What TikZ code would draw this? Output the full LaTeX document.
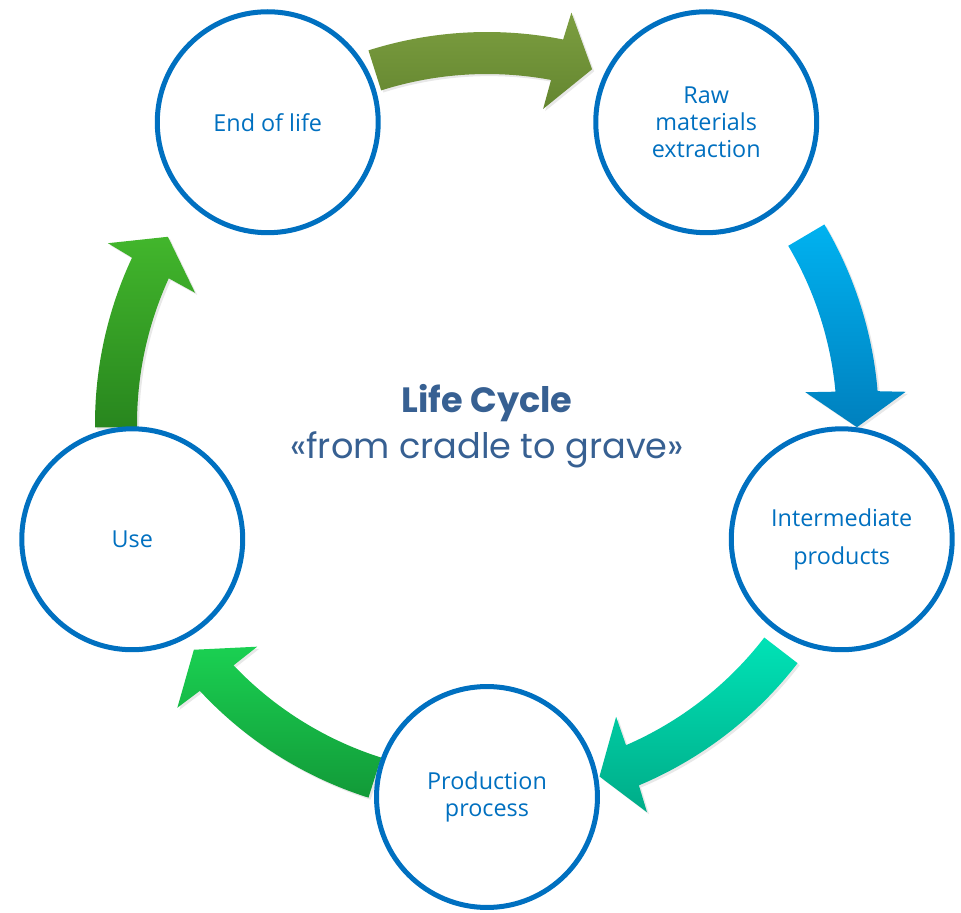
\documentclass[tikz,border=0pt]{standalone}
\usepackage{fontspec}
\setmainfont{Open Sans}
\newfontfamily\titlefont{Poppins}
\usepackage{tikz}
\usetikzlibrary{shadows, positioning}
\definecolor{ringblue}{RGB}{0,112,192}
\definecolor{titleblue}{RGB}{55,96,146}
\definecolor{olivetop}{RGB}{124,158,64}
\definecolor{olivebot}{RGB}{100,134,48}
\definecolor{skytop}{RGB}{0,178,240}
\definecolor{skybot}{RGB}{0,128,190}
\definecolor{aquatop}{RGB}{0,226,182}
\definecolor{aquabot}{RGB}{0,172,136}
\definecolor{leaftop}{RGB}{26,208,82}
\definecolor{leafbot}{RGB}{18,154,56}
\definecolor{grasstop}{RGB}{66,182,44}
\definecolor{grassbot}{RGB}{40,134,30}
\tikzset{
  stage/.style={circle, draw=ringblue, fill=white, line width=2.85pt,
    minimum size=4.42cm, inner sep=0pt, align=center,
    font=\fontsize{13.3}{15.6}\selectfont, text=ringblue},
  cyclearrow/.style={drop shadow={opacity=0.18, shadow xshift=1.2pt,
    shadow yshift=-1.2pt}},
  titletext/.style={font=\titlefont\fontsize{20}{24}\selectfont,
    text=titleblue, anchor=base}
}
\begin{document}
\begin{tikzpicture}[x=0.02cm, y=0.02cm]
  \useasboundingbox (-487,-489) rectangle (474,424);

  % arrows along the ring
  \shade[cyclearrow, top color=olivetop, bottom color=olivebot]
    (107.6:392) arc[start angle=107.6, end angle=78.8, radius=392]
    -- (78.4:420) -- (73.5:370) -- (79.9:320) -- (79.45:350)
    arc[start angle=79.45, end angle=107.6, radius=350] -- cycle;
  \shade[cyclearrow, top color=skytop, bottom color=skybot]
    (30.6:392) arc[start angle=30.6, end angle=4.8, radius=392]
    -- (4.4:420) -- (-0.5:370) -- (5.7:320) -- (5.3:350)
    arc[start angle=5.3, end angle=30.6, radius=350] -- cycle;
  \shade[cyclearrow, top color=aquatop, bottom color=aquabot]
    (-37.6:392) arc[start angle=-37.6, end angle=-67.2, radius=392]
    -- (-67.6:420) -- (-72.3:370) -- (-66.2:320) -- (-66.6:350)
    arc[start angle=-66.6, end angle=-37.6, radius=350] -- cycle;
  \shade[cyclearrow, top color=leaftop, bottom color=leafbot]
    (-107.6:392) arc[start angle=-107.6, end angle=-137.1, radius=392]
    -- (-137.5:420) -- (-142.4:370) -- (-135.9:320) -- (-136.4:350)
    arc[start angle=-136.4, end angle=-107.6, radius=350] -- cycle;
  \shade[cyclearrow, top color=grasstop, bottom color=grassbot]
    (180.5:392) arc[start angle=180.5, end angle=154.9, radius=392]
    -- (154.5:420) -- (149.6:370) -- (155.8:320) -- (155.4:350)
    arc[start angle=155.4, end angle=180.5, radius=350] -- cycle;

  % stages
  \node[stage] (endlife) at (126:373) {End of life};
  \node[stage] (rawmat) at (54:373) {Raw\\materials\\extraction};
  \node[stage] (interm) at (-18:373) {Intermediate\\[6pt]products};
  \node[stage] (prodproc) at (-90:373) {Production\\process};
  \node[stage] (use) at (198:373) {Use};

  % centre caption
  \node[titletext] (title) at (0,11) {\bfseries Life Cycle};
  \node[titletext] (subtitle) at (0,-34) {«from cradle to grave»};
\end{tikzpicture}
\end{document}
